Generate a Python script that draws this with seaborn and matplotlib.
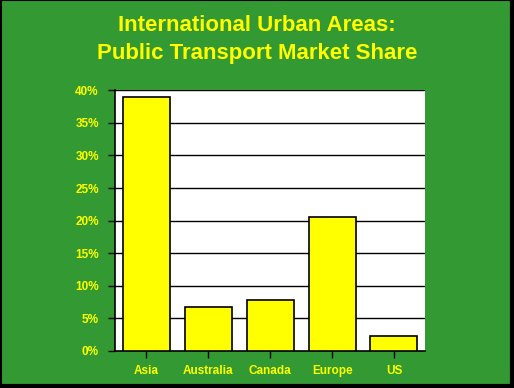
import matplotlib
matplotlib.use("Agg")
import matplotlib.pyplot as plt
import seaborn as sns
from matplotlib.lines import Line2D

# data
regions = ["Asia", "Australia", "Canada", "Europe", "US"]
share = [38.9, 6.7, 7.8, 20.6, 2.25]
yticks = [0, 5, 10, 15, 20, 25, 30, 35, 40]

green = "#339933"
yellow = "#FFFF00"

sns.set_style("white")
plt.rcParams["font.family"] = ["Liberation Sans", "DejaVu Sans"]

fig = plt.figure(figsize=(5.14, 3.88), dpi=100, facecolor=green)
ax = fig.add_axes([0.2247, 0.0954, 0.602, 0.672])
ax.set_facecolor("white")

sns.barplot(x=regions, y=share, color=yellow, edgecolor="black",
            linewidth=1.2, width=0.76, saturation=1, ax=ax, zorder=3)

ax.set_ylim(0, 40)
ax.set_xlim(-0.5, 4.5)
ax.set_yticks(yticks)
ax.set_yticklabels([f"{t}%" for t in yticks])
for y in yticks[1:]:
    ax.axhline(y, color="black", lw=1, zorder=1)

for s in ["top", "right"]:
    ax.spines[s].set_visible(False)
for s in ["left", "bottom"]:
    ax.spines[s].set_color("black")
    ax.spines[s].set_linewidth(1.2)

ax.tick_params(axis="both", direction="out", length=5, width=1,
               color="black", labelcolor=yellow, left=True, bottom=True)
ax.tick_params(axis="y", pad=7)
ax.tick_params(axis="x", pad=5)
for lab in ax.get_xticklabels() + ax.get_yticklabels():
    lab.set_fontweight("bold")
    lab.set_fontsize(8.5)
ax.set_xlabel("")
ax.set_ylabel("")

fig.text(0.5, 0.898, "International Urban Areas:\nPublic Transport Market Share",
         ha="center", va="center", color=yellow, fontsize=16,
         fontweight="bold", linespacing=1.4)

# slide frame: thin top/left, heavier right/bottom
fig.add_artist(Line2D([0.001, 0.001], [0, 1], color="black", lw=1.5, transform=fig.transFigure))
fig.add_artist(Line2D([0, 1], [0.999, 0.999], color="black", lw=1.5, transform=fig.transFigure))
fig.add_artist(Line2D([0.996, 0.996], [0, 1], color="black", lw=3, transform=fig.transFigure))
fig.add_artist(Line2D([0, 1], [0.005, 0.005], color="black", lw=3, transform=fig.transFigure))

fig.savefig("out.png", dpi=100, facecolor=green)
